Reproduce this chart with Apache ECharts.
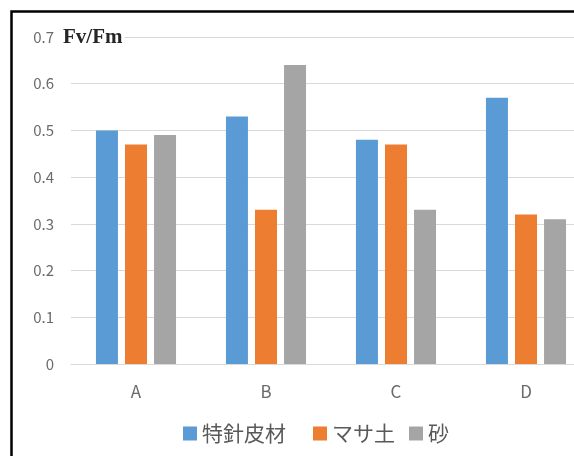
<!DOCTYPE html>
<html>
<head>
<meta charset="utf-8">
<script src="https://cdn.jsdelivr.net/npm/echarts@6/dist/echarts.min.js"></script>
<style>
  html, body { margin: 0; padding: 0; background: #ffffff; }
  #chart { width: 574px; height: 456px; }
</style>
</head>
<body>
<div id="chart"></div>
<script>
// Fv/Fm by site and substrate
const categories = ['A', 'B', 'C', 'D'];
const seriesNames = ['特針皮材', 'マサ土', '砂'];
const tokushinValues = [0.50, 0.53, 0.48, 0.57];
const masaValues = [0.47, 0.33, 0.47, 0.32];
const sunaValues = [0.49, 0.64, 0.33, 0.31];
const yTicks = [0, 0.1, 0.2, 0.3, 0.4, 0.5, 0.6, 0.7];
const colors = ['#5B9BD5', '#ED7D31', '#A5A5A5'];

const chart = echarts.init(document.getElementById('chart'), null, { renderer: 'canvas' });

const labelFont = '"Noto Sans CJK JP", "Noto Sans", sans-serif';

function barSeries(name, values, color) {
  return {
    name: name,
    type: 'bar',
    data: values,
    barWidth: 22,
    barGap: '32%',
    itemStyle: { color: color },
    emphasis: { disabled: true }
  };
}

// one legend block per series, laid out left to right
const legendLefts = [178, 308, 404];
const legends = seriesNames.map(function (name, i) {
  return {
    data: [name],
    left: legendLefts[i],
    top: 418,
    itemWidth: 14,
    itemHeight: 14,
    icon: 'rect',
    selectedMode: false,
    textStyle: { fontFamily: labelFont, fontSize: 21, color: '#595959' }
  };
});

chart.setOption({
  animation: false,
  backgroundColor: '#ffffff',
  color: colors,
  grid: {
    left: 71, top: 37, width: 520, height: 327,
    containLabel: false, outerBoundsMode: 'none'
  },
  graphic: [
    {
      type: 'rect',
      shape: { x: 11.5, y: 11.5, width: 640, height: 500 },
      style: { fill: 'none', stroke: '#000000', lineWidth: 2.5 },
      silent: true
    },
    {
      type: 'text',
      silent: true,
      z: 10,
      style: {
        x: 63,
        y: 38,
        text: 'Fv/Fm',
        verticalAlign: 'middle',
        font: 'bold 21px "Liberation Serif", "DejaVu Serif", serif',
        fill: '#262626',
        backgroundColor: '#ffffff',
        padding: [2, 2, 2, 0]
      }
    }
  ],
  legend: legends,
  xAxis: {
    type: 'category',
    data: categories,
    axisLine: { show: true, lineStyle: { color: '#D9D9D9' } },
    axisTick: { show: false },
    axisLabel: { fontFamily: labelFont, fontSize: 17, color: '#6a6a6a', margin: 19 }
  },
  yAxis: {
    type: 'value',
    min: yTicks[0],
    max: yTicks[yTicks.length - 1],
    interval: 0.1,
    axisLine: { show: false },
    axisTick: { show: false },
    splitLine: { lineStyle: { color: '#D9D9D9', width: 1 } },
    axisLabel: {
      fontFamily: labelFont,
      fontSize: 15,
      color: '#6a6a6a',
      margin: 17,
      formatter: function (v) { return String(Math.round(v * 10) / 10); }
    }
  },
  series: [
    barSeries(seriesNames[0], tokushinValues, colors[0]),
    barSeries(seriesNames[1], masaValues, colors[1]),
    barSeries(seriesNames[2], sunaValues, colors[2])
  ]
});
</script>
</body>
</html>
